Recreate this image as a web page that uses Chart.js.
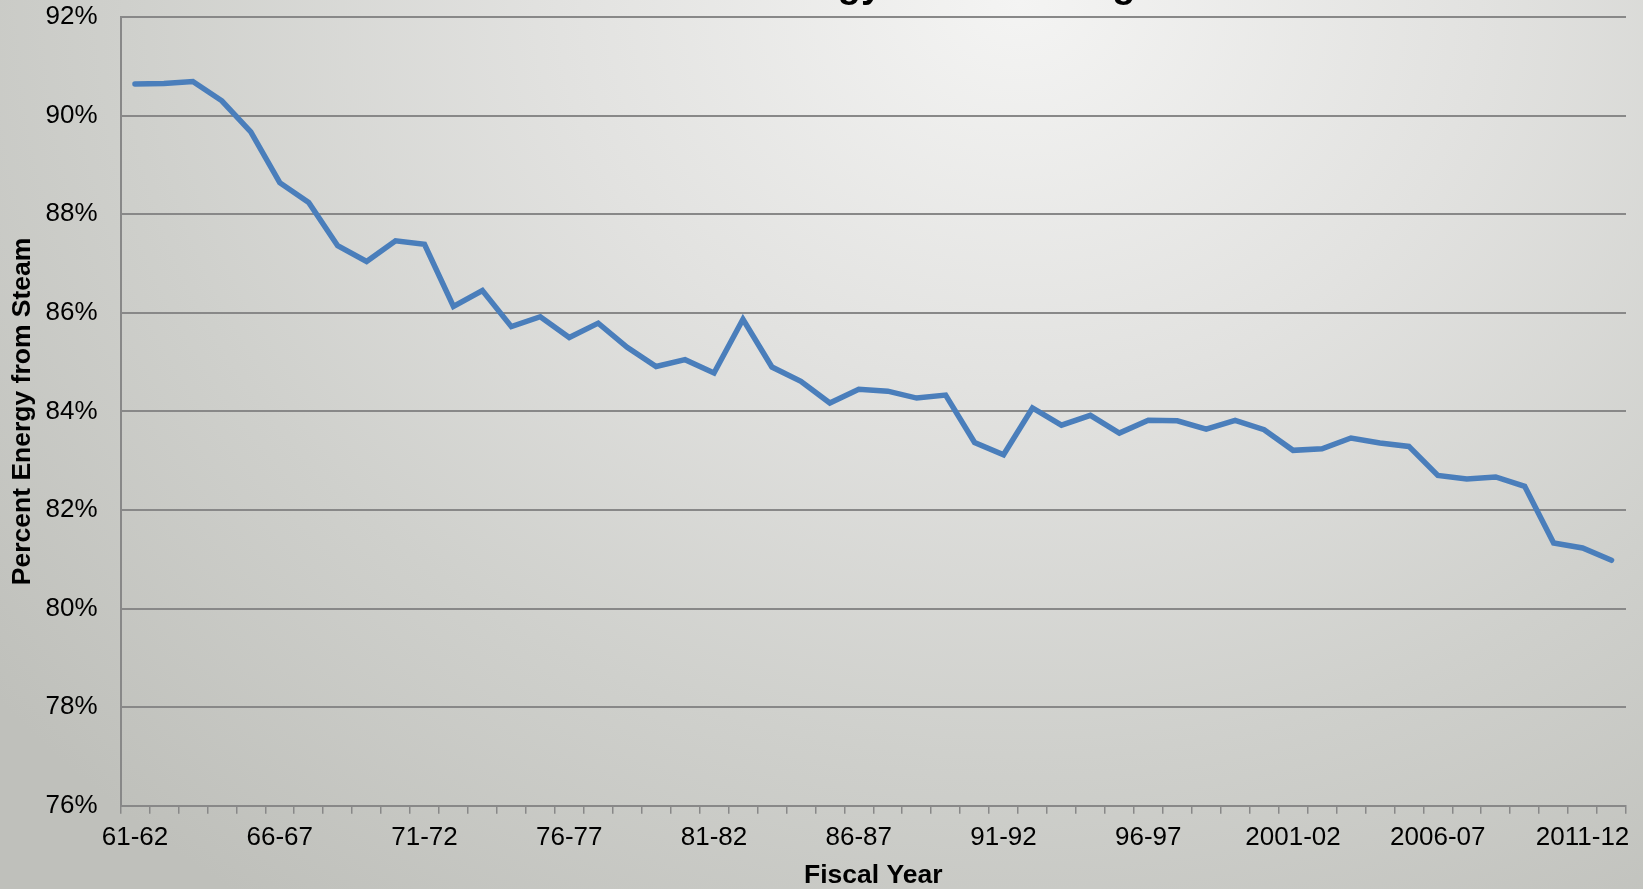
<!DOCTYPE html>
<html>
<head>
<meta charset="utf-8">
<script src="https://cdn.jsdelivr.net/npm/chart.js@4.4.1/dist/chart.umd.min.js"></script>
<style>
  html, body { margin: 0; padding: 0; }
  body {
    width: 1643px; height: 889px; overflow: hidden;
    background: radial-gradient(ellipse 80% 125% at 62% 0%, #f4f4f3 0%, #e2e2e0 35%, #cfd0cc 68%, #bfc0bb 100%);
  }
  #wrap { position: absolute; left: 0; top: 0; width: 1643px; height: 889px; }
</style>
</head>
<body>
<div id="wrap"><canvas id="chart" width="1643" height="889"></canvas></div>
<script>
// Fiscal years 1961-62 through 2012-13
const fiscalYears = [
  '61-62','62-63','63-64','64-65','65-66','66-67','67-68','68-69','69-70','70-71',
  '71-72','72-73','73-74','74-75','75-76','76-77','77-78','78-79','79-80','80-81',
  '81-82','82-83','83-84','84-85','85-86','86-87','87-88','88-89','89-90','90-91',
  '91-92','92-93','93-94','94-95','95-96','96-97','97-98','98-99','99-2000','2000-01',
  '2001-02','2002-03','2003-04','2004-05','2005-06','2006-07','2007-08','2008-09','2009-10','2010-11',
  '2011-12','2012-13'
];

// Share of energy supplied from steam, percent
const steamPercent = [
  90.64, 90.65, 90.69, 90.30, 89.67, 88.64, 88.24, 87.36, 87.04, 87.46,
  87.39, 86.13, 86.45, 85.72, 85.92, 85.50, 85.79, 85.30, 84.91, 85.05,
  84.78, 85.87, 84.90, 84.61, 84.17, 84.45, 84.41, 84.27, 84.33, 83.37,
  83.12, 84.07, 83.72, 83.92, 83.56, 83.82, 83.81, 83.64, 83.82, 83.63,
  83.21, 83.24, 83.46, 83.36, 83.29, 82.70, 82.63, 82.67, 82.48, 81.33,
  81.23, 80.98
];

// Value-axis range and labelled category interval
const yMin = 76, yMax = 92, yStep = 2;
const labelEvery = 5;

const chartTitle = 'Percent Energy from Steam generation';
const yTitle = 'Percent Energy from Steam';
const xTitle = 'Fiscal Year';

const axisGray = '#888888';
const lineBlue = '#4a7ebb';
const fontFamily = '"Liberation Sans", Arial, sans-serif';

// Chart heading, drawn along the top edge of the canvas
const headingPlugin = {
  id: 'heading',
  afterDraw(chart) {
    const ctx = chart.ctx;
    ctx.save();
    ctx.font = 'bold 38px ' + fontFamily;
    ctx.fillStyle = '#000';
    ctx.textAlign = 'left';
    ctx.textBaseline = 'alphabetic';
    const lead = ctx.measureText('Percent Energ').width;
    ctx.fillText(chartTitle, 861 - lead, -3.5);
    ctx.restore();
  }
};

new Chart(document.getElementById('chart'), {
  type: 'line',
  data: {
    labels: fiscalYears,
    datasets: [{
      data: steamPercent,
      borderColor: lineBlue,
      borderWidth: 5.5,
      pointRadius: 0,
      pointHoverRadius: 0,
      tension: 0,
      fill: false,
      borderJoinStyle: 'miter',
      borderCapStyle: 'round'
    }]
  },
  options: {
    responsive: false,
    animation: false,
    events: [],
    layout: { padding: { left: 0, right: 17, top: 17, bottom: 0 } },
    plugins: {
      legend: { display: false },
      tooltip: { enabled: false },
      title: { display: false }
    },
    scales: {
      x: {
        type: 'category',
        offset: true,
        afterFit(scale) {
          scale.paddingLeft = 0;
          scale.paddingRight = 0;
          scale.height = 83.2;
        },
        grid: {
          display: true,
          offset: true,
          drawOnChartArea: false,
          drawTicks: true,
          tickLength: 8,
          color: axisGray,
          lineWidth: 1.5
        },
        border: { display: true, color: axisGray, width: 2 },
        ticks: {
          autoSkip: false,
          maxRotation: 0,
          minRotation: 0,
          padding: 8.6,
          color: '#000',
          font: { family: fontFamily, size: 26 },
          callback: (v, i) => (i % labelEvery === 0 ? fiscalYears[i] : '')
        },
        title: {
          display: true,
          text: xTitle,
          color: '#000',
          font: { family: fontFamily, size: 26.5, weight: 'bold', lineHeight: 1 },
          padding: { top: 0, bottom: 0 }
        }
      },
      y: {
        min: yMin,
        max: yMax,
        afterFit(scale) {
          scale.paddingTop = 0;
          scale.paddingBottom = 0;
          scale.width = 120.5;
        },
        grid: {
          color: axisGray,
          lineWidth: 2,
          drawTicks: false
        },
        border: { display: true, color: axisGray, width: 2 },
        ticks: {
          stepSize: yStep,
          padding: 23,
          color: '#000',
          font: { family: fontFamily, size: 26 },
          callback: v => v + '%'
        },
        title: {
          display: true,
          text: yTitle,
          color: '#000',
          font: { family: fontFamily, size: 26.5, weight: 'bold' },
          padding: { top: 7, bottom: 0 }
        }
      }
    }
  },
  plugins: [headingPlugin]
});
</script>
</body>
</html>
